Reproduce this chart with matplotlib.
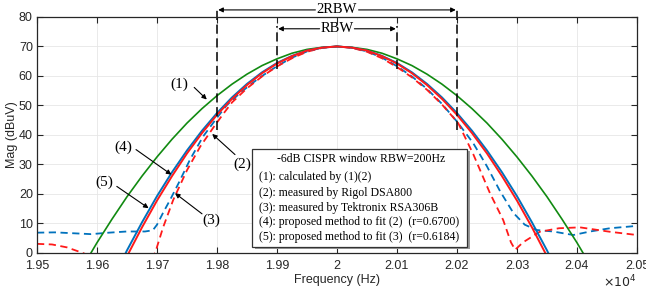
import matplotlib
matplotlib.use("Agg")
import matplotlib.pyplot as plt
from matplotlib.patches import Rectangle

# ---------------- data ----------------
freq_fit = [19575, 19600, 19625, 19650, 19675, 19700, 19725, 19750, 19775, 19800,
            19825, 19850, 19875, 19900, 19925, 19950, 19975, 20000, 20025, 20050,
            20075, 20100, 20125, 20150, 20175, 20200, 20225, 20250, 20275, 20300,
            20325, 20350, 20375, 20400, 20425]

calc_1 = [-5.2, 3.4, 11.4, 19.0, 26.0, 32.5, 38.5, 44.0, 48.9, 53.3, 57.2, 60.6,
          63.5, 65.8, 67.7, 69.0, 69.7, 70.0, 69.7, 69.0, 67.7, 65.8, 63.5, 60.6,
          57.2, 53.3, 48.9, 44.0, 38.5, 32.5, 26.0, 19.0, 11.4, 3.4, -5.2]

fit_4 = [-32.0, -20.0, -9.5, 0.8, 10.3, 19.2, 27.3, 34.7, 41.4, 47.4, 52.7, 57.3,
         61.2, 64.4, 66.8, 68.6, 69.6, 70.0, 69.6, 68.6, 66.8, 64.4, 61.2, 57.3,
         52.7, 47.4, 41.4, 34.7, 27.3, 19.2, 10.3, 0.8, -9.5, -20.0, -32.0]

fit_5 = [-35.0, -23.0, -11.7, -1.2, 8.6, 17.7, 26.0, 33.7, 40.6, 46.8, 52.2, 56.9,
         60.9, 64.2, 66.7, 68.6, 69.6, 70.0, 69.6, 68.6, 66.7, 64.2, 60.9, 56.9,
         52.2, 46.8, 40.6, 33.7, 26.0, 17.7, 8.6, -1.2, -11.7, -23.0, -35.0]

freq_rigol = [19500, 19525, 19550, 19575, 19600, 19650, 19690, 19697, 19710, 19727,
              19750, 19772, 19794, 19810, 19825, 19850, 19875, 19900, 19925, 19950,
              19975, 20000, 20025, 20050, 20075, 20100, 20125, 20150, 20175, 20202,
              20227, 20255, 20277, 20290, 20297, 20310, 20338, 20370, 20405, 20455,
              20500]
meas_2 = [3.0, 2.8, 1.8, 0.0, -2.0, -4.0, -2.0, 0.0, 8.5, 17.9,
          28.0, 36.0, 42.5, 47.0, 51.0, 55.8, 59.8, 63.2, 66.0, 68.2,
          69.5, 70.0, 69.5, 68.2, 66.0, 63.0, 59.5, 55.3, 50.3, 44.0,
          33.5, 20.2, 11.1, 3.5, 1.0, 3.5, 7.1, 8.3, 8.6, 7.1,
          6.0]

freq_tek = [19500, 19530, 19560, 19590, 19620, 19650, 19680, 19693, 19700, 19710,
            19722, 19736, 19755, 19777, 19800, 19816, 19840, 19870, 19900, 19925,
            19950, 19975, 20000, 20025, 20050, 20075, 20100, 20125, 20150, 20175,
            20200, 20227, 20250, 20272, 20294, 20313, 20333, 20360, 20394, 20422,
            20455, 20500]
meas_3 = [6.8, 6.9, 6.6, 6.3, 6.8, 7.2, 7.2, 7.6, 9.5, 13.5,
          18.0, 23.6, 31.6, 39.5, 45.8, 50.0, 54.5, 59.3, 63.3, 66.2,
          68.3, 69.6, 70.0, 69.6, 68.3, 66.2, 63.3, 59.8, 55.6, 50.5,
          44.5, 37.2, 29.3, 20.8, 13.5, 9.5, 7.7, 7.2, 6.0, 7.2,
          8.3, 9.1]

xtick_vals = [19500, 19600, 19700, 19800, 19900, 20000, 20100, 20200, 20300, 20400, 20500]
xtick_labels = ["1.95", "1.96", "1.97", "1.98", "1.99", "2", "2.01", "2.02", "2.03", "2.04", "2.05"]
ytick_vals = [0, 10, 20, 30, 40, 50, 60, 70, 80]

legend_title = "-6dB CISPR window RBW=200Hz"
legend_lines = ["(1): calculated by (1)(2)",
                "(2): measured by Rigol DSA800",
                "(3): measured by Tektronix RSA306B",
                "(4): proposed method to fit (2)  (r=0.6700)",
                "(5): proposed method to fit (3)  (r=0.6184)"]

# ---------------- figure ----------------
GREEN = "#118a11"
BLUE = "#0072BD"
RED = "#ff1a1a"
SERIF = "Liberation Serif"
SANS = "Liberation Sans"

fig = plt.figure(figsize=(6.46, 2.95), dpi=100)
ax = fig.add_axes([0.0573, 0.1434, 0.9287, 0.799])

ax.plot(freq_tek, meas_3, color=BLUE, lw=1.3, ls=(0, (4, 2.5)))
ax.plot(freq_rigol, meas_2, color=RED, lw=1.3, ls=(0, (4, 2.5)))
ax.plot(freq_fit, calc_1, color=GREEN, lw=1.2)
ax.plot(freq_fit, fit_4, color=BLUE, lw=1.4)
ax.plot(freq_fit, fit_5, color=RED, lw=1.4)

ax.set_xlim(19500, 20500)
ax.set_ylim(0, 80)
ax.set_xticks(xtick_vals)
ax.set_xticklabels(xtick_labels)
ax.set_yticks(ytick_vals)
ax.grid(True, color="#e6e6e6", lw=0.6)
ax.set_axisbelow(True)
ax.tick_params(direction="in", top=True, right=True, length=4, width=0.8,
               labelsize=9, colors="#262626", pad=3)
ax.tick_params(axis="x", pad=5)
for lab in ax.get_xticklabels() + ax.get_yticklabels():
    lab.set_fontfamily(SANS)
for s in ax.spines.values():
    s.set_linewidth(0.9)
    s.set_color("#262626")

ax.set_xlabel("Frequency (Hz)", fontsize=9, family=SANS, color="#262626", labelpad=2)
ax.set_ylabel("Mag (dBuV)", fontsize=9, family=SANS, color="#262626")
ax.yaxis.set_label_coords(-0.031, 0.5)
ax.text(1.0, -0.123, r"$\times10^4$", transform=ax.transAxes, ha="right", va="center",
        fontsize=9, color="#262626")

# RBW markers
dash_k = (0, (6, 3))
for f in [19800, 20200]:
    ax.plot([f, f], [41.5, 82.4], color="k", lw=1.1, ls=dash_k, clip_on=False)
for f in [19900, 20100]:
    ax.plot([f, f], [62.2, 76.8], color="k", lw=1.1, ls=dash_k, clip_on=False)

ax.text(20000, 82.4, "2RBW", ha="center", va="center", fontsize=10.5, family=SERIF)
ax.text(20000, 76.0, "RBW", ha="center", va="center", fontsize=10.5, family=SERIF)
arr = dict(arrowstyle="-|>", color="k", lw=0.8, mutation_scale=7, shrinkA=0, shrinkB=0)
ax.annotate("", xy=(19802, 82.4), xytext=(19964, 82.4), arrowprops=arr, annotation_clip=False)
ax.annotate("", xy=(20198, 82.4), xytext=(20036, 82.4), arrowprops=arr, annotation_clip=False)
ax.annotate("", xy=(19902, 76.0), xytext=(19971, 76.0), arrowprops=arr, annotation_clip=False)
ax.annotate("", xy=(20098, 76.0), xytext=(20029, 76.0), arrowprops=arr, annotation_clip=False)

# curve labels with arrows
labels = [("(1)", (19738, 57.0), (19762, 56.1), (19783, 52.0)),
          ("(4)", (19644, 35.9), (19665, 35.0), (19724, 26.5)),
          ("(5)", (19613, 23.8), (19633, 22.5), (19686, 15.1)),
          ("(3)", (19790, 11.1), (19775, 13.2), (19730, 20.2)),
          ("(2)", (19842, 29.9), (19830, 33.3), (19792, 40.3))]
for txt, tpos, start, tip in labels:
    ax.text(tpos[0], tpos[1], txt, ha="center", va="center", fontsize=11, family=SERIF)
    ax.annotate("", xy=tip, xytext=start, arrowprops=arr)

# legend-like text box with shadow
bx0, by0, bx1, by1 = 0.3588, 0.0229, 0.7172, 0.4387
ax.add_patch(Rectangle((bx0 + 0.004, by0 - 0.008), bx1 - bx0, by1 - by0,
                       transform=ax.transAxes, facecolor="#9a9a9a", edgecolor="none", zorder=5))
ax.add_patch(Rectangle((bx0, by0), bx1 - bx0, by1 - by0, transform=ax.transAxes,
                       facecolor="white", edgecolor="#333333", lw=0.9, zorder=6))
ax.text(0.54, 0.3963, legend_title, transform=ax.transAxes, ha="center", va="center",
        fontsize=8.5, family=SERIF, zorder=7)
ys = [0.3224, 0.2546, 0.1909, 0.1315, 0.0679]
for y, t in zip(ys, legend_lines):
    ax.text(0.3705, y, t, transform=ax.transAxes, ha="left", va="center",
            fontsize=8.5, family=SERIF, zorder=7)

fig.savefig("out.png", dpi=100)
